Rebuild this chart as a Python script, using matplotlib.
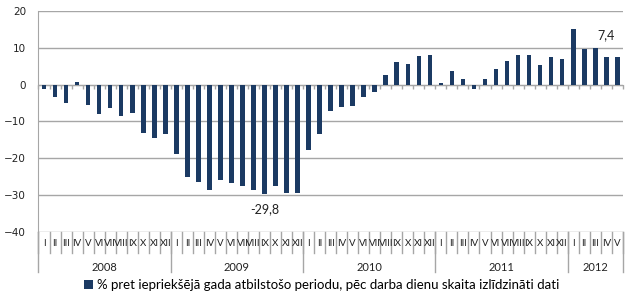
import matplotlib
matplotlib.use('Agg')
import matplotlib.pyplot as plt

# monthly values, Jan 2008 .. May 2012
values = [
    -1.1, -3.5, -4.9, 0.7, -5.5, -7.9, -6.4, -8.4, -7.7, -13.1, -14.4, -13.3,
    -18.8, -25.1, -26.4, -28.5, -25.9, -26.8, -27.5, -28.6, -29.8, -27.5, -29.5, -29.3,
    -17.7, -13.5, -7.3, -6.2, -5.7, -3.4, -2.0, 2.5, 6.2, 5.5, 7.8, 8.0,
    0.5, 3.6, 1.4, -1.1, 1.4, 4.1, 6.5, 8.0, 8.0, 5.4, 7.5, 6.9,
    15.1, 9.7, 10.0, 7.5, 7.4,
]
months = ['I', 'II', 'III', 'IV', 'V', 'VI', 'VII', 'VIII', 'IX', 'X', 'XI', 'XII']
years = ['2008', '2009', '2010', '2011', '2012']
year_len = [12, 12, 12, 12, 5]
legend_label = '% pret iepriekšējā gada atbilstošo periodu, pēc darba dienu skaita izlīdzināti dati'

bar_color = '#1b3a63'
grid_color = '#a6a6a6'
label_font = 'Lato'

n = len(values)
x = list(range(n))

fig = plt.figure(figsize=(6.31, 2.94), dpi=100)
ax = fig.add_axes([0.061, 0.211, 0.926, 0.752])

bars = ax.bar(x, values, width=0.42, color=bar_color, zorder=3, label=legend_label)

ax.set_ylim(-40, 20)
ax.set_xlim(-0.5, n - 0.5)
ax.set_yticks(range(-40, 21, 10))
ax.yaxis.grid(True, color=grid_color, linewidth=1)
ax.set_axisbelow(True)
ax.tick_params(axis='y', length=0, pad=9, labelsize=7.5, labelcolor='#222222')

for s in ['top', 'right']:
    ax.spines[s].set_visible(False)
ax.spines['left'].set_color(grid_color)
ax.spines['bottom'].set_position(('data', 0))
ax.spines['bottom'].set_color(grid_color)
ax.set_xticks([i - 0.5 for i in range(n + 1)])
ax.set_xticklabels([])
ax.tick_params(axis='x', direction='out', length=3, color=grid_color, width=1)

# category axis below the plot (months, then years)
trans = ax.get_xaxis_transform()
for i in range(n):
    ax.text(i, -0.05, months[i % 12], transform=trans, ha='center', va='center',
            fontsize=7, family=label_font, color='#222222', clip_on=False)
for i in range(n + 1):
    ax.plot([i - 0.5, i - 0.5], [0, -0.095], transform=trans, color=grid_color,
            linewidth=1, clip_on=False)
start = 0
for y, ln in zip(years, year_len):
    ax.plot([start - 0.5, start - 0.5], [0, -0.181], transform=trans, color=grid_color,
            linewidth=1, clip_on=False)
    ax.text(start + ln / 2 - 0.5, -0.16, y, transform=trans, ha='center', va='center',
            fontsize=8, family=label_font, color='#222222', clip_on=False)
    start += ln
ax.plot([start - 0.5, start - 0.5], [0, -0.181], transform=trans, color=grid_color,
        linewidth=1, clip_on=False)

# data labels
imin = values.index(min(values))
ax.text(imin, -33.8, f'{values[imin]:.1f}'.replace('.', ','),
        ha='center', va='center', fontsize=9, family=label_font, color='#222222')
ax.text(n - 2, 13.5, f'{values[-1]:.1f}'.replace('.', ','),
        ha='center', va='center', fontsize=9, family=label_font, color='#222222')

fig.legend(handles=[bars], labels=[legend_label], loc='center',
           bbox_to_anchor=(0.51, 0.031), frameon=False,
           prop={'family': label_font, 'size': 9.5},
           handlelength=0.7, handleheight=0.7, handletextpad=0.3)

fig.savefig('out.png', dpi=100)
